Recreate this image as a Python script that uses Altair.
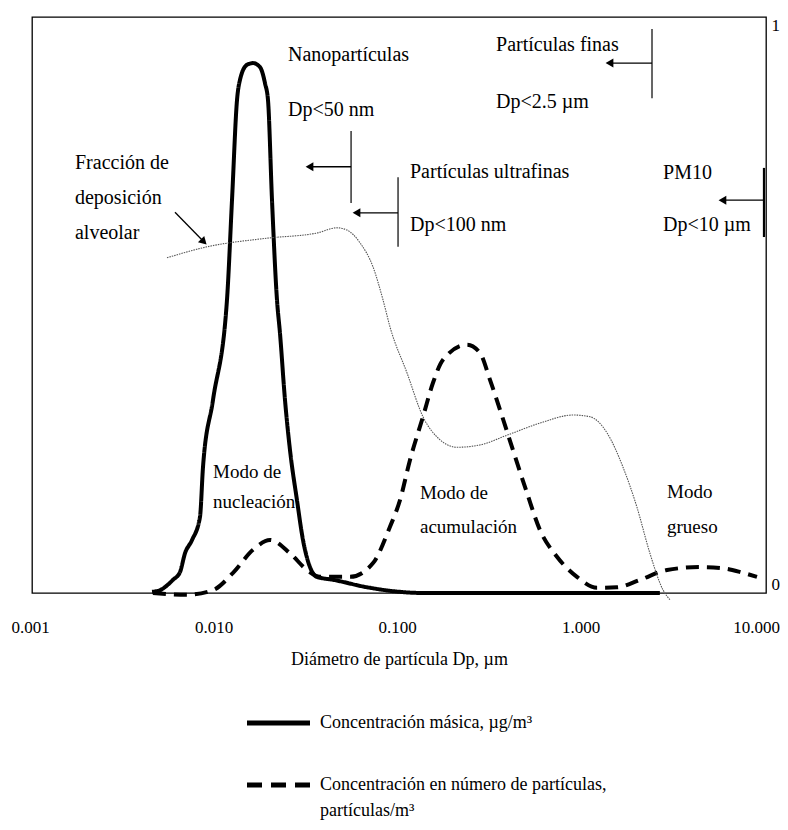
import altair as alt
import pandas as pd

FONT = "Liberation Serif"

# ---- curves (Dp in µm, relative value 0..1) ----
mass_dp = [0.00451, 0.00499, 0.00587, 0.00640, 0.00682, 0.00745, 0.00823, 0.00855, 0.00969,
           0.01155, 0.01230, 0.01310, 0.01360, 0.01485, 0.01601, 0.01748, 0.01861, 0.01932,
           0.02032, 0.02163, 0.02246, 0.02392, 0.02547, 0.02780, 0.02998, 0.03273, 0.0357,
           0.0437, 0.0669, 0.1012, 0.1351, 2.64]
mass_val = [0.002, 0.005, 0.023, 0.036, 0.069, 0.092, 0.132, 0.219, 0.335,
            0.509, 0.682, 0.856, 0.891, 0.917, 0.920, 0.913, 0.885, 0.856,
            0.682, 0.509, 0.451, 0.335, 0.248, 0.161, 0.092, 0.045, 0.028,
            0.023, 0.010, 0.002, 0.0, 0.0]

num_dp = [0.00456, 0.00699, 0.00969, 0.01246, 0.01601, 0.01982, 0.02547, 0.0315, 0.0371,
          0.0541, 0.0722, 0.0893, 0.1012, 0.1148, 0.1351, 0.1532, 0.1737, 0.2348, 0.276,
          0.3133, 0.3552, 0.418, 0.498, 0.587, 0.726, 0.933, 1.20, 1.54, 2.06, 2.89, 4.37,
          5.83, 7.49, 8.93]
num_val = [0.0, -0.003, 0.005, 0.035, 0.075, 0.092, 0.069, 0.040, 0.028,
           0.028, 0.052, 0.115, 0.161, 0.231, 0.306, 0.365, 0.405, 0.431, 0.417,
           0.370, 0.318, 0.248, 0.174, 0.109, 0.063, 0.028, 0.009, 0.010, 0.023, 0.040, 0.045,
           0.043, 0.035, 0.028]

alv_dp = [0.00544, 0.00899, 0.0191, 0.0357, 0.0459, 0.0521, 0.0613, 0.0722, 0.0818, 0.0893,
          0.1106, 0.1351, 0.1673, 0.207, 0.276, 0.388, 0.587, 0.888, 1.099, 1.36, 1.66,
          1.98, 2.33, 2.75, 3.00]
alv_val = [0.582, 0.601, 0.616, 0.625, 0.634, 0.630, 0.608, 0.566, 0.509, 0.462,
           0.382, 0.306, 0.266, 0.253, 0.257, 0.274, 0.295, 0.309, 0.306, 0.278, 0.219,
           0.149, 0.069, 0.005, -0.012]

series = ["Concentración másica, µg/m³", "Concentración en número de partículas, partículas/m³"]
legend_lines = ["Concentración másica, µg/m³", "Concentración en número de partículas,",
                "partículas/m³"]

x_ticks = [0.001, 0.01, 0.1, 1, 10]
y_ticks = [0, 1]
x_title = "Diámetro de partícula Dp, µm"

# ---- annotations ----
ann_text = ["Nanopartículas", "Dp<50 nm", "Partículas ultrafinas", "Dp<100 nm",
            "Partículas finas", "Dp<2.5 µm", "PM10", "Dp<10 µm",
            "Fracción de", "deposición", "alveolar"]
ann_dp = [0.02484, 0.02484, 0.1148, 0.1148, 0.3378, 0.3378, 2.75, 2.75,
          0.001715, 0.001715, 0.001715]
ann_val = [0.934, 0.839, 0.731, 0.639, 0.951, 0.852, 0.729, 0.639, 0.747, 0.686, 0.625]

mode_text = ["Modo de", "nucleación", "Modo de", "acumulación", "Modo", "grueso"]
mode_dp = [0.00969, 0.00969, 0.1301, 0.1301, 2.888, 2.888]
mode_val = [0.210, 0.158, 0.174, 0.115, 0.175, 0.115]

# size-limit markers (vertical bars)
mark_dp = [0.0548, 0.0988, 2.392, 9.75]
mark_v1 = [0.802, 0.722, 0.979, 0.738]
mark_v2 = [0.677, 0.601, 0.859, 0.618]
mark_w = [1.2, 1.2, 1.2, 2.2]

# arrows: shaft from marker to head
arr_dp1 = [0.0548, 0.0988, 2.392, 9.75]
arr_dp2 = [0.03253, 0.05867, 1.403, 5.79]
arr_val = [0.740, 0.660, 0.920, 0.682]
head_dp = [0.03253, 0.05867, 1.403, 5.79, 0.008636]
head_val = [0.740, 0.660, 0.920, 0.682, 0.6097]
head_ang = [180, 180, 180, 180, 45]
diag_dp1, diag_v1, diag_dp2, diag_v2 = [0.006016], [0.661], [0.008636], [0.6097]

xscale = alt.Scale(type="log", domain=[0.001, 10])
yscale = alt.Scale(domain=[0, 1], nice=False, zero=False)
xaxis = alt.Axis(values=x_ticks, format=".3f", ticks=False, domain=False, grid=False,
                 labelPadding=26, labelFlush=False,
                 labelOffset={"expr": "datum.value >= 10 ? -10 : -2"},
                 labelFont=FONT, labelFontSize=17, labelColor="black",
                 title=x_title, titlePadding=15, titleFont=FONT, titleFontSize=18,
                 titleFontWeight="normal", titleColor="black")
yaxis = alt.Axis(orient="right", values=y_ticks, format="d", ticks=False, domain=False, grid=False,
                 labelPadding=5, labelFlush=True, labelFont=FONT, labelFontSize=17,
                 labelColor="black", title=None)


def X(field):
    return alt.X(field, type="quantitative", scale=xscale, axis=xaxis, title=x_title)


def Y(field):
    return alt.Y(field, type="quantitative", scale=yscale, axis=yaxis, title=None)


curves = pd.DataFrame({
    "dp": mass_dp + num_dp,
    "v": mass_val + num_val,
    "serie": [series[0]] * len(mass_dp) + [series[1]] * len(num_dp),
})

main = alt.Chart(curves).mark_line(color="black", strokeWidth=4, interpolate="monotone").encode(
    x=X("dp"), y=Y("v"),
    strokeDash=alt.StrokeDash("serie:N",
                              scale=alt.Scale(domain=series, range=[[1, 0], [13, 8]]),
                              legend=None),
)

alv = alt.Chart(pd.DataFrame({"dp": alv_dp, "v": alv_val})).mark_line(
    color="#555", strokeWidth=1.1, strokeDash=[1.5, 1], interpolate="monotone"
).encode(x=X("dp"), y=Y("v"))

ann = alt.Chart(pd.DataFrame({"t": ann_text, "dp": ann_dp, "v": ann_val})).mark_text(
    align="left", baseline="middle", font=FONT, fontSize=20, color="black"
).encode(x=X("dp"), y=Y("v"), text="t:N")

modes = alt.Chart(pd.DataFrame({"t": mode_text, "dp": mode_dp, "v": mode_val})).mark_text(
    align="left", baseline="middle", font=FONT, fontSize=19, color="black"
).encode(x=X("dp"), y=Y("v"), text="t:N")

bars = alt.Chart(pd.DataFrame({"dp": mark_dp, "v": mark_v1, "v2": mark_v2, "w": mark_w})).mark_rule(
    color="black"
).encode(x=X("dp"), y=Y("v"), y2="v2:Q", strokeWidth=alt.StrokeWidth("w:Q", scale=None))

shafts = alt.Chart(pd.DataFrame({"dp": arr_dp1, "dp2": arr_dp2, "v": arr_val})).mark_rule(
    color="black", strokeWidth=1.3
).encode(x=X("dp"), x2="dp2:Q", y=Y("v"))

diag = alt.Chart(pd.DataFrame({"dp": diag_dp1, "v": diag_v1, "dp2": diag_dp2, "v2": diag_v2})).mark_rule(
    color="black", strokeWidth=1.3
).encode(x=X("dp"), x2="dp2:Q", y=Y("v"), y2="v2:Q")

heads = alt.Chart(pd.DataFrame({"dp": head_dp, "v": head_val, "a": head_ang})).mark_point(
    shape="triangle-right", filled=True, color="black", size=80, opacity=1
).encode(x=X("dp"), y=Y("v"), angle=alt.Angle("a:Q", scale=None))

# ---- legend (drawn below the plot) ----
one = pd.DataFrame({"k": [0]})
leg_solid = alt.Chart(one).mark_rule(color="black", strokeWidth=5).encode(
    x=alt.value(215), x2=alt.value(278), y=alt.value(706))
leg_dash = alt.Chart(one).mark_rule(color="black", strokeWidth=5, strokeDash=[15, 9]).encode(
    x=alt.value(215), x2=alt.value(278), y=alt.value(768))
leg_text = [
    alt.Chart(one).mark_text(align="left", baseline="middle", font=FONT, fontSize=18,
                             color="black").encode(
        x=alt.value(288), y=alt.value(yy), text=alt.value(txt))
    for txt, yy in zip(legend_lines, [706, 768, 794])
]

chart = alt.layer(main, alv, ann, modes, bars, shafts, diag, heads,
                  leg_solid, leg_dash, *leg_text).properties(
    width=734, height=576,
    autosize=alt.AutoSizeParams(type="none"),
    padding={"left": 24, "top": 9, "right": 14, "bottom": 229},
).configure_view(stroke="black", strokeWidth=1.3)

chart.save("out.html", embed_options={"renderer": "svg", "actions": False})
